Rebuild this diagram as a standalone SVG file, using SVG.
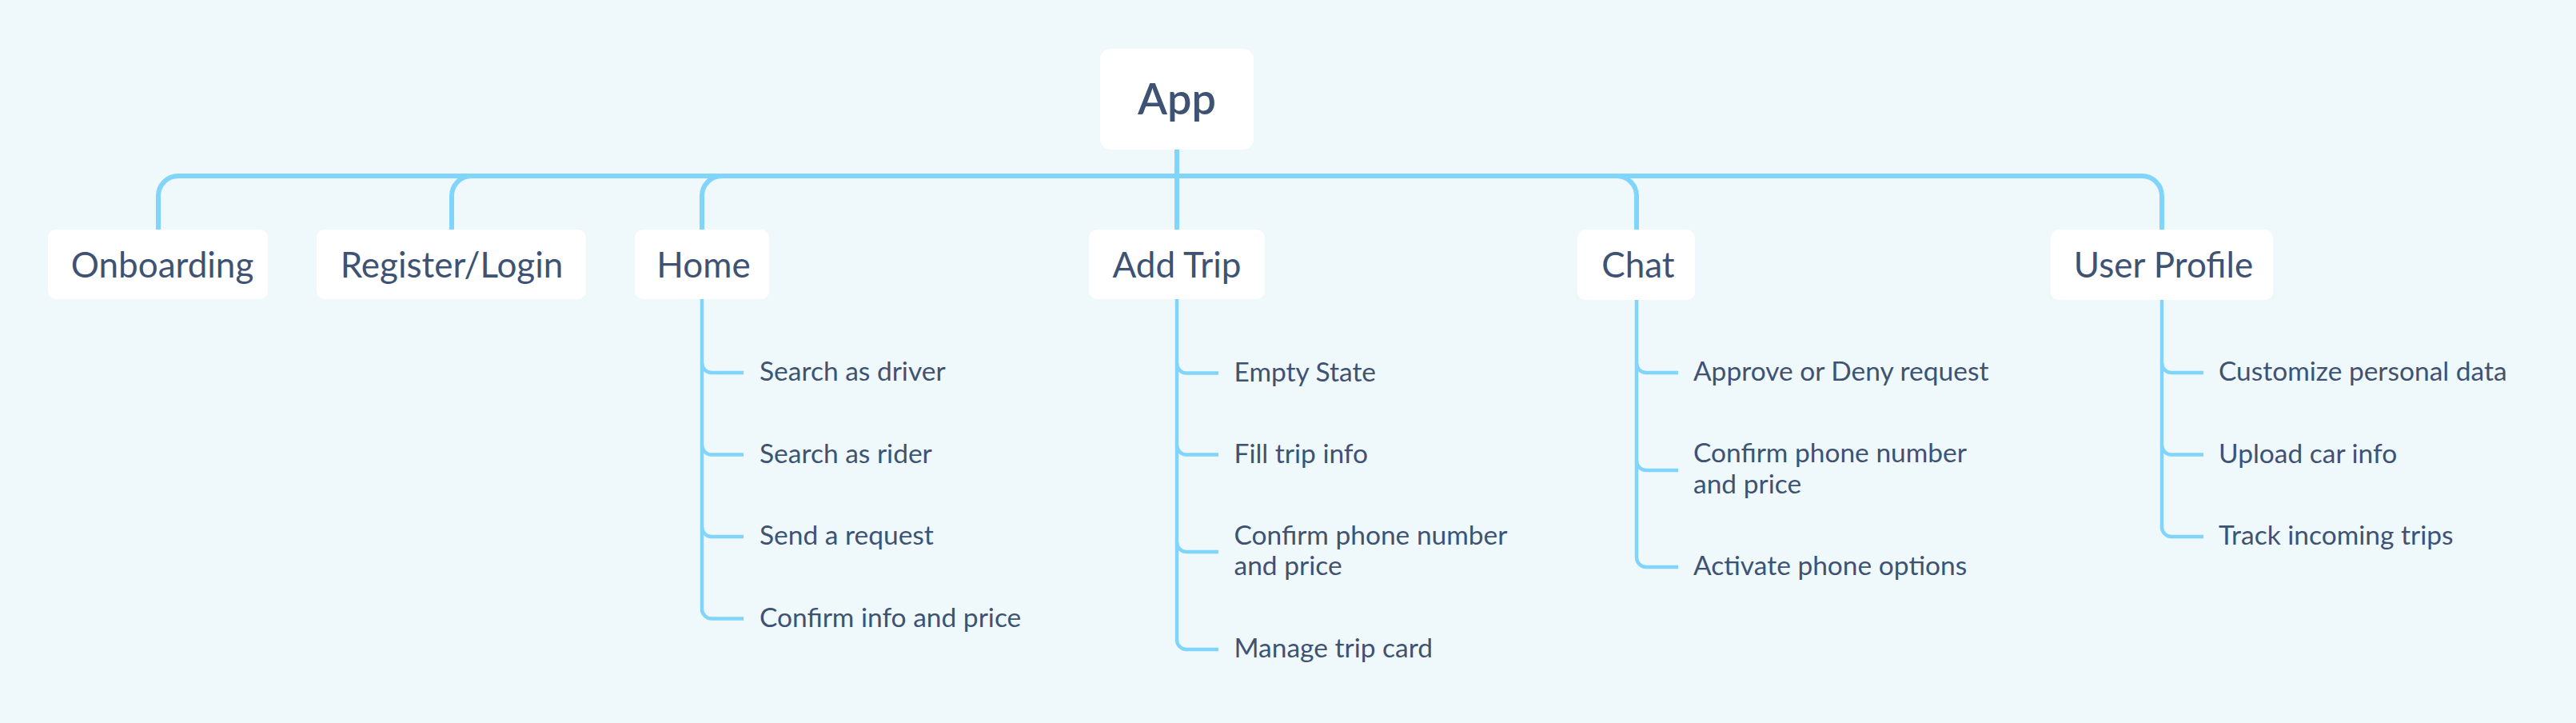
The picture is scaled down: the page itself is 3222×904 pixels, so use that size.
<svg xmlns="http://www.w3.org/2000/svg" width="3222" height="904" viewBox="0 0 3222 904">
<style>
.bg{fill:#EFF8FB}
.box{fill:#FFFFFF}
.bus{fill:none;stroke:#81D4FA;stroke-width:6;stroke-linecap:butt}
.sub{fill:none;stroke:#81D4FA;stroke-width:4.5}
.t{font-family:Lato,"Liberation Sans",sans-serif;fill:#3E5373}
.main{font-size:44px;text-anchor:middle}
.root{font-size:54px;font-weight:600;text-anchor:middle}
.leaf{font-size:33.5px}
</style>
<rect class="bg" x="0" y="0" width="3222" height="904"/>
<g id="connectors">
<path class="bus" d="M1472,187 V220 H223 A25,25 0 0 0 198,245 V287"/>
<path class="bus" d="M1472,220 H590 A25,25 0 0 0 565,245 V287"/>
<path class="bus" d="M1472,220 H903 A25,25 0 0 0 878,245 V287"/>
<path class="bus" d="M1472,187 V287"/>
<path class="bus" d="M1472,220 H2022 A25,25 0 0 1 2047,245 V287"/>
<path class="bus" d="M1472,220 H2679 A25,25 0 0 1 2704,245 V287"/>
<path class="sub" d="M878,374 V761.5 A12,12 0 0 0 890,773.5 H930"/>
<path class="sub" d="M878,454 A12,12 0 0 0 890,466 H930"/>
<path class="sub" d="M878,556.5 A12,12 0 0 0 890,568.5 H930"/>
<path class="sub" d="M878,659 A12,12 0 0 0 890,671 H930"/>
<path class="sub" d="M1472,374 V800 A12,12 0 0 0 1484,812 H1524"/>
<path class="sub" d="M1472,454.5 A12,12 0 0 0 1484,466.5 H1524"/>
<path class="sub" d="M1472,556.5 A12,12 0 0 0 1484,568.5 H1524"/>
<path class="sub" d="M1472,678 A12,12 0 0 0 1484,690 H1524"/>
<path class="sub" d="M2047,375 V697 A12,12 0 0 0 2059,709 H2099"/>
<path class="sub" d="M2047,454 A12,12 0 0 0 2059,466 H2099"/>
<path class="sub" d="M2047,576 A12,12 0 0 0 2059,588 H2099"/>
<path class="sub" d="M2704,375 V659 A12,12 0 0 0 2716,671 H2756"/>
<path class="sub" d="M2704,454 A12,12 0 0 0 2716,466 H2756"/>
<path class="sub" d="M2704,556.5 A12,12 0 0 0 2716,568.5 H2756"/>
</g>
<g id="app">
<rect class="box" x="1376" y="61" width="192" height="126" rx="13"/>
<text class="t root" x="1472" y="143">App</text>
</g>
<g id="onboarding">
<rect class="box" x="60" y="287" width="275" height="87" rx="10"/>
<text class="t main" x="203" y="347">Onboarding</text>
</g>
<g id="register">
<rect class="box" x="396" y="287" width="337" height="87" rx="10"/>
<text class="t main" x="565" y="347">Register/Login</text>
</g>
<g id="home">
<rect class="box" x="794" y="287" width="168" height="87" rx="10"/>
<text class="t main" x="880" y="347">Home</text>
<text class="t leaf" x="950" y="476">Search as driver</text>
<text class="t leaf" x="950" y="578.5">Search as rider</text>
<text class="t leaf" x="950" y="681">Send a request</text>
<text class="t leaf" x="950" y="783.5">Confirm info and price</text>
</g>
<g id="addtrip">
<rect class="box" x="1362" y="287" width="220" height="87" rx="10"/>
<text class="t main" x="1472" y="347">Add Trip</text>
<text class="t leaf" x="1543.5" y="476.5">Empty State</text>
<text class="t leaf" x="1543.5" y="578.5">Fill trip info</text>
<text class="t leaf" x="1543.5" y="681">Confirm phone number</text>
<text class="t leaf" x="1543.5" y="719">and price</text>
<text class="t leaf" x="1543.5" y="822">Manage trip card</text>
</g>
<g id="chat">
<rect class="box" x="1973" y="287" width="147" height="88" rx="10"/>
<text class="t main" x="2049" y="347">Chat</text>
<text class="t leaf" x="2118" y="476">Approve or Deny request</text>
<text class="t leaf" x="2118" y="578">Confirm phone number</text>
<text class="t leaf" x="2118" y="617">and price</text>
<text class="t leaf" x="2118" y="719">Activate phone options</text>
</g>
<g id="userprofile">
<rect class="box" x="2565" y="287" width="278" height="88" rx="10"/>
<text class="t main" x="2706" y="347">User Profile</text>
<text class="t leaf" x="2775" y="476">Customize personal data</text>
<text class="t leaf" x="2775" y="578.5">Upload car info</text>
<text class="t leaf" x="2775" y="681">Track incoming trips</text>
</g>
</svg>
